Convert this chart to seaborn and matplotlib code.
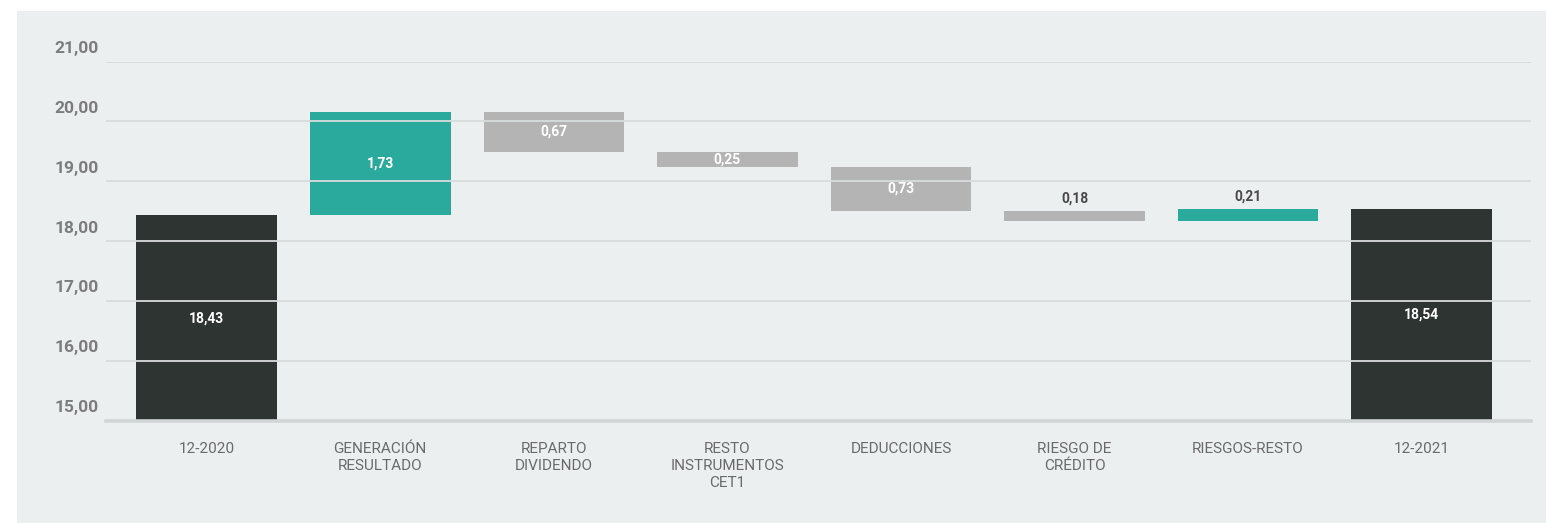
import matplotlib
matplotlib.use("Agg")
import matplotlib.pyplot as plt
from matplotlib.patches import Rectangle
import seaborn as sns
import pandas as pd

# CET1 ratio bridge, December 2020 -> December 2021 (%)
categories = ["12-2020", "GENERACIÓN\nRESULTADO", "REPARTO\nDIVIDENDO",
              "RESTO\nINSTRUMENTOS\nCET1", "DEDUCCIONES", "RIESGO DE\nCRÉDITO",
              "RIESGOS-RESTO", "12-2021"]
changes = [18.43, 1.73, -0.67, -0.25, -0.73, -0.18, 0.21, 18.54]
kinds = ["total", "up", "down", "down", "down", "down", "up", "total"]
value_labels = ["18,43", "1,73", "0,67", "0,25", "0,73", "0,18", "0,21", "18,54"]
y_ticks = [15, 16, 17, 18, 19, 20, 21]
y_tick_labels = ["15,00", "16,00", "17,00", "18,00", "19,00", "20,00", "21,00"]

colors = {"total": "#2e3432", "up": "#2aaa9c", "down": "#b4b4b4"}
BG = "#ebeff0"
GRID = "#d8dcdd"
Y_MIN, Y_MAX = 15, 21

# running bottoms / tops of each floating bar
bottoms, tops = [], []
level = 0.0
for c, k in zip(changes, kinds):
    if k == "total":
        bottoms.append(0.0)
        tops.append(c)
        level = c
    else:
        new = level + c
        bottoms.append(min(level, new))
        tops.append(max(level, new))
        level = new

df = pd.DataFrame({"cat": categories, "top": tops, "kind": kinds})

W, H = 1546, 523
fig = plt.figure(figsize=(W / 100, H / 100), dpi=100)
fig.patch.set_facecolor("white")
fig.patches.append(Rectangle((17 / W, 0), 1 - 17 / W, (H - 11) / H,
                             transform=fig.transFigure, facecolor=BG,
                             edgecolor="none", zorder=-10))

ax = fig.add_axes([106 / W, (H - 421) / H, (1531 - 106) / W, (421 - 61.5) / H])
ax.set_facecolor("none")

sns.barplot(data=df, x="cat", y="top", hue="cat",
            palette=[colors[k] for k in kinds], legend=False,
            width=0.81, saturation=1, edgecolor="none", ax=ax, zorder=2)

# turn the bars into floating segments
for patch, b, t in zip(ax.patches, bottoms, tops):
    patch.set_y(b)
    patch.set_height(t - b)

ax.set_ylim(Y_MIN, Y_MAX)
ax.set_xlim(-0.58, len(categories) - 1 + 0.63)

# gridlines above the bars
for v in y_ticks[1:]:
    ax.axhline(v, color=GRID, lw=1.3, zorder=3)
ax.axhline(Y_MIN, color="#d2d5d6", lw=2.6, zorder=3, clip_on=False)

for s in ax.spines.values():
    s.set_visible(False)
ax.set_xlabel("")
ax.set_ylabel("")
ax.set_yticks([])
ax.tick_params(axis="x", length=0, pad=15)
ax.set_xticks(range(len(categories)))
ax.set_xticklabels(categories, fontsize=11, color="#6a6a6a",
                   linespacing=1.3, family="Roboto")

# y labels sit just above their gridline
for v, lab in zip(y_ticks, y_tick_labels):
    ax.annotate(lab, xy=(0, v), xycoords=ax.get_yaxis_transform(),
                xytext=(-5, 9.5), textcoords="offset points",
                ha="right", va="center", fontsize=12.5, color="#7c7c7c",
                fontweight="bold", family="Roboto", annotation_clip=False)

# value labels: inside the bar, or above it when the bar is too thin
for i, (b, t, lab) in enumerate(zip(bottoms, tops, value_labels)):
    lo = max(b, Y_MIN)
    if t - lo < 0.22:
        ax.annotate(lab, xy=(i, t), xytext=(0, 4), textcoords="offset points",
                    ha="center", va="bottom", fontsize=10, color="#4a4a4a",
                    fontweight="bold", family="Roboto", zorder=5)
    else:
        ax.text(i, (lo + t) / 2, lab, ha="center", va="center",
                fontsize=10, color="white", fontweight="bold",
                family="Roboto", zorder=5)

fig.savefig("out.png", dpi=100, facecolor=fig.get_facecolor())
